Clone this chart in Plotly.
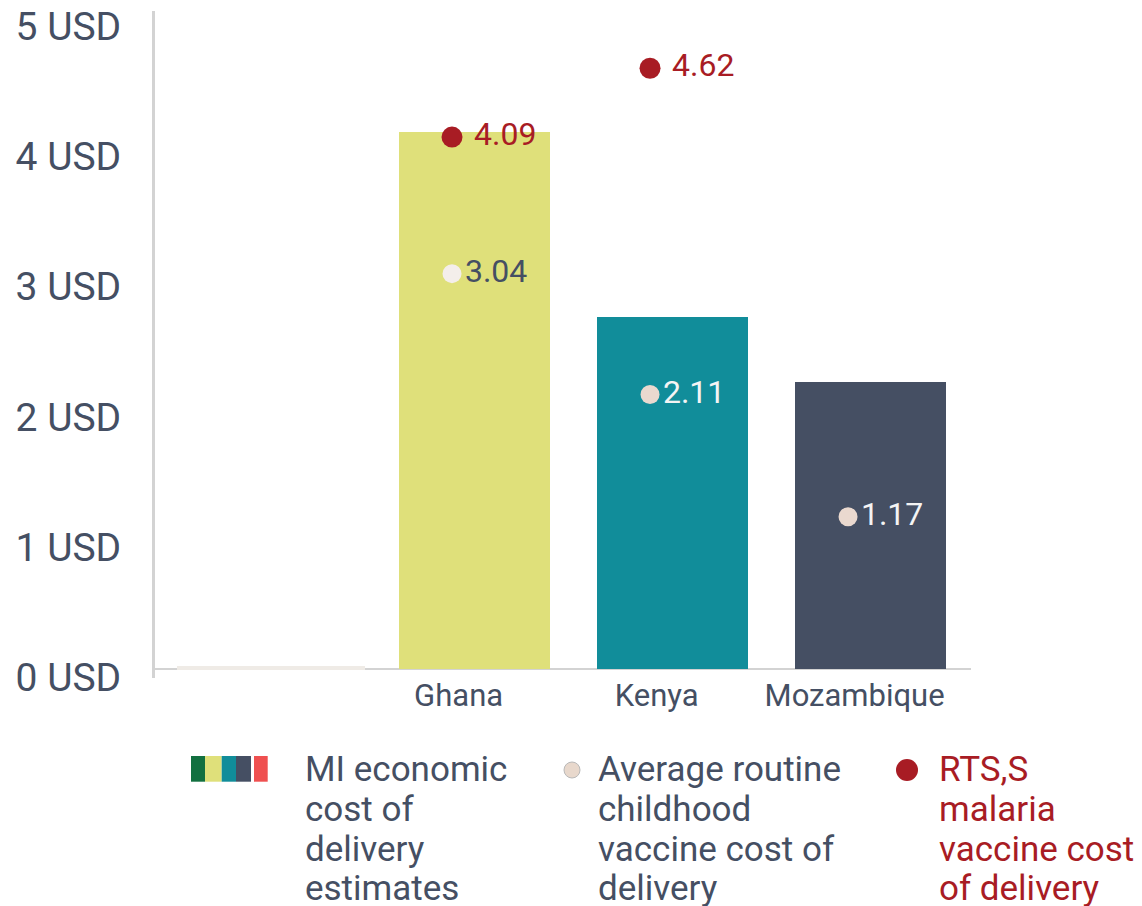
import plotly.graph_objects as go

# ---------------- data ----------------
categories = ["", "Ghana", "Kenya", "Mozambique"]
mi_cost = [0.015, 4.13, 2.71, 2.21]          # MI economic cost of delivery estimates (USD)
routine_cost = [None, 3.04, 2.11, 1.17]      # Average routine childhood vaccine cost of delivery
rtss_cost = [None, 4.09, 4.62, None]         # RTS,S malaria vaccine cost of delivery
y_ticks = [0, 1, 2, 3, 4, 5]
y_tick_labels = [f"{v} USD" for v in y_ticks]

# ---------------- styling ----------------
FONT = "Roboto, 'Liberation Sans', Arial, sans-serif"
TXT = "#454f63"
RED = "#a81c24"
GRID = "#d3d3d3"
bar_colors = ["#efebe6", "#dfe07a", "#118d9a", "#454f63"]
bar_widths = [0.94, 0.762, 0.762, 0.762]
bar_offsets = [-0.5, -0.381, -0.381, -0.381]
routine_colors = ["#f4eeea", "#ead9cf", "#ead9cf"]
routine_text_colors = [TXT, "#f4f4f4", "#f4f4f4"]
dot_shift = -0.114

# the page body has an 8px margin, so the figure is drawn 8px in from the corner
OFF = 8
W, H = 1142 - OFF, 906 - OFF
# plot area in screen pixels
SL, SR, ST, SB = 155, 971, 11, 678
L, R, T, B = SL - OFF, SR - OFF, ST - OFF, SB - OFF

xs = list(range(len(categories)))

fig = go.Figure()

fig.add_trace(go.Bar(
    x=xs, y=mi_cost, width=bar_widths, offset=bar_offsets,
    marker=dict(color=bar_colors, line=dict(color=bar_colors, width=[2, 0, 0, 0])),
    showlegend=False, hoverinfo="skip",
))

rx = [x + dot_shift for x, v in zip(xs, routine_cost) if v is not None]
ry = [v for v in routine_cost if v is not None]
fig.add_trace(go.Scatter(
    x=rx, y=ry, mode="markers+text",
    marker=dict(size=19, color=routine_colors, line=dict(width=0)),
    text=[f"{v:.2f}" for v in ry], textposition="middle right",
    textfont=dict(family=FONT, size=32, color=routine_text_colors),
    showlegend=False, hoverinfo="skip", cliponaxis=False,
))

sx = [x + dot_shift for x, v in zip(xs, rtss_cost) if v is not None]
sy = [v for v in rtss_cost if v is not None]
fig.add_trace(go.Scatter(
    x=sx, y=sy, mode="markers+text",
    marker=dict(size=21, color=RED, line=dict(width=0)),
    text=[f" {v:.2f}" for v in sy], textposition="middle right",
    textfont=dict(family=FONT, size=32, color=RED),
    showlegend=False, hoverinfo="skip", cliponaxis=False,
))

# ---------------- layout ----------------
pw, ph = SR - SL, SB - ST


def px_x(p):
    return (p - SL) / pw


def px_y(p):
    return (SB - p) / ph


shapes = []
annotations = []

# legend item 1: multi-colour swatch
swatch = [(191, 205, "#127040"), (205, 221.7, "#dfe07a"), (221.7, 236, "#118d9a"),
          (236, 251, "#454f63"), (254, 267.7, "#ef5050")]
for x0, x1, c in swatch:
    shapes.append(dict(type="rect", xref="paper", yref="paper",
                       x0=px_x(x0), x1=px_x(x1), y0=px_y(781.7), y1=px_y(756),
                       fillcolor=c, line=dict(width=0), layer="above"))

# legend dots
shapes.append(dict(type="circle", xref="paper", yref="paper",
                   xsizemode="pixel", ysizemode="pixel",
                   xanchor=px_x(572), yanchor=px_y(770),
                   x0=-8, x1=8, y0=-8, y1=8,
                   fillcolor="#e8d8cc", line=dict(color="#b9b9b9", width=1)))
shapes.append(dict(type="circle", xref="paper", yref="paper",
                   xsizemode="pixel", ysizemode="pixel",
                   xanchor=px_x(907), yanchor=px_y(770),
                   x0=-11, x1=11, y0=-11, y1=11,
                   fillcolor=RED, line=dict(width=0)))

legend_items = [
    (303, ["MI economic", "cost of", "delivery", "estimates"], TXT),
    (596, ["Average routine", "childhood", "vaccine cost of", "delivery"], TXT),
    (937, ["RTS,S", "malaria", "vaccine cost", "of delivery"], RED),
]
line_centers = [769, 809, 849, 888]
for x0, lines, col in legend_items:
    for line, yc in zip(lines, line_centers):
        annotations.append(dict(
            text=line, xref="paper", yref="paper",
            x=px_x(x0), y=px_y(yc), xanchor="left", yanchor="middle",
            showarrow=False, font=dict(family=FONT, size=35, color=col),
        ))

fig.update_layout(
    width=W, height=H,
    margin=dict(l=L, r=W - R, t=T, b=H - B, pad=0, autoexpand=False),
    paper_bgcolor="white", plot_bgcolor="white",
    font=dict(family=FONT, color=TXT),
    showlegend=False,
    bargap=0,
    shapes=shapes,
    annotations=annotations,
)

fig.update_xaxes(
    range=[-0.614, 3.507], tickmode="array", tickvals=xs, ticktext=categories,
    showgrid=False, zeroline=False, showline=False, ticks="", automargin=False,
    tickfont=dict(family=FONT, size=31, color=TXT),
    ticklabelshift=-16, ticklabelstandoff=-4, ticklabeloverflow="allow",
)
fig.update_yaxes(
    range=[-0.07, 5.06], tickmode="array", tickvals=y_ticks, ticktext=y_tick_labels,
    showgrid=False, zeroline=True, zerolinecolor=GRID, zerolinewidth=2,
    showline=True, linecolor=GRID, linewidth=3, ticks="", automargin=False,
    tickfont=dict(family=FONT, size=39, color=TXT),
    ticklabelstandoff=23, ticklabelshift=8, ticklabeloverflow="allow",
)

fig.write_html("out.html")
